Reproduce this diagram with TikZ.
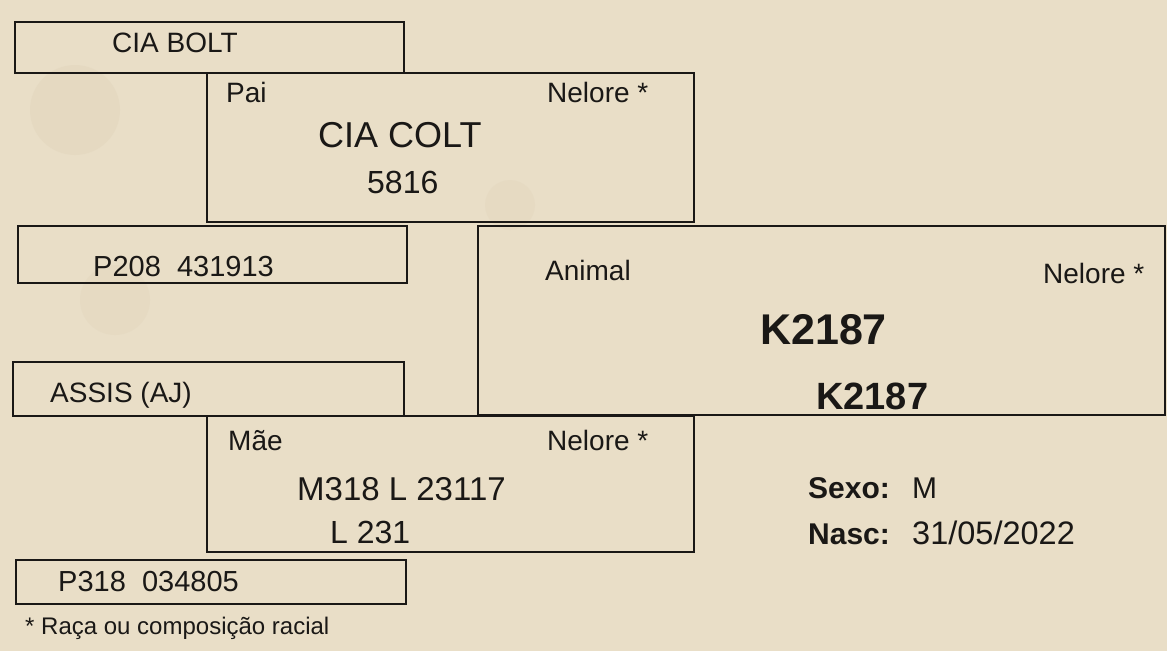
\documentclass[tikz,border=0pt]{standalone}
\usepackage{fontspec}
\setmainfont{Liberation Sans}
\definecolor{paper}{HTML}{E9DEC7}
\definecolor{stain}{HTML}{DACDB2}
\definecolor{ink}{HTML}{1A1816}
\tikzset{
  box/.style={draw=ink, line width=2.2pt, rectangle, inner sep=0pt, outer sep=0pt, anchor=north west},
  lbl/.style={text=ink, inner sep=0pt, anchor=base west},
}
\newcommand{\fs}[1]{\fontsize{#1}{#1}\selectfont}
\begin{document}
\begin{tikzpicture}[x=1pt,y=-1pt]
\fill[paper] (0,0) rectangle (1167,651);
\useasboundingbox (0,0) rectangle (1167,651);
% faint stains
\fill[stain, opacity=0.25] (75,110) circle (45);
\fill[stain, opacity=0.2] (510,205) circle (25);
\fill[stain, opacity=0.2] (115,300) circle (35);
% boxes
\node[box, minimum width=389, minimum height=51] (boltbox) at (15,22) {};
\node[box, minimum width=487, minimum height=149] (paibox) at (207,73) {};
\node[box, minimum width=389, minimum height=57] (p208box) at (18,226) {};
\node[box, minimum width=687, minimum height=189] (animalbox) at (478,226) {};
\node[box, minimum width=391, minimum height=54] (assisbox) at (13,362) {};
\node[box, minimum width=487, minimum height=136] (maebox) at (207,416) {};
\node[box, minimum width=390, minimum height=44] (p318box) at (16,560) {};
% texts
\node[lbl, font=\fs{28}] (bolt) at (112,52) {CIA BOLT};
\node[lbl, font=\fs{28}] (pai) at (226,102) {Pai};
\node[lbl, font=\fs{28}] (nelpai) at (547,102) {Nelore *};
\node[lbl, font=\fs{36}] (colt) at (318,147) {CIA COLT};
\node[lbl, font=\fs{32}] (n5816) at (367,193) {5816};
\node[lbl, font=\fs{29}] (p208) at (93,276) {P208\ \ 431913};
\node[lbl, font=\fs{28}] (animal) at (545,280) {Animal};
\node[lbl, font=\fs{28}] (nelanimal) at (1043,283) {Nelore *};
\node[lbl, font=\bfseries\fs{43}] (k1) at (760,344) {K2187};
\node[lbl, font=\bfseries\fs{38}] (k2) at (816,409) {K2187};
\node[lbl, font=\fs{28}] (assis) at (50,402) {ASSIS (AJ)};
\node[lbl, font=\fs{28}] (mae) at (228,450) {Mãe};
\node[lbl, font=\fs{28}] (nelmae) at (547,450) {Nelore *};
\node[lbl, font=\fs{33}] (m318) at (297,500) {M318 L 23117};
\node[lbl, font=\fs{32}] (l231) at (330,543) {L 231};
\node[lbl, font=\fs{29}] (p318) at (58,591) {P318\ \ 034805};
\node[lbl, font=\bfseries\fs{30}] (sexo) at (808,498) {Sexo:};
\node[lbl, font=\fs{30}] (sexov) at (912,498) {M};
\node[lbl, font=\bfseries\fs{30}] (nasc) at (808,544) {Nasc:};
\node[lbl, font=\fs{32.5}] (nascv) at (912,544) {31/05/2022};
\node[lbl, font=\fs{24}] (foot) at (25,634) {* Raça ou composição racial};
\end{tikzpicture}
\end{document}
